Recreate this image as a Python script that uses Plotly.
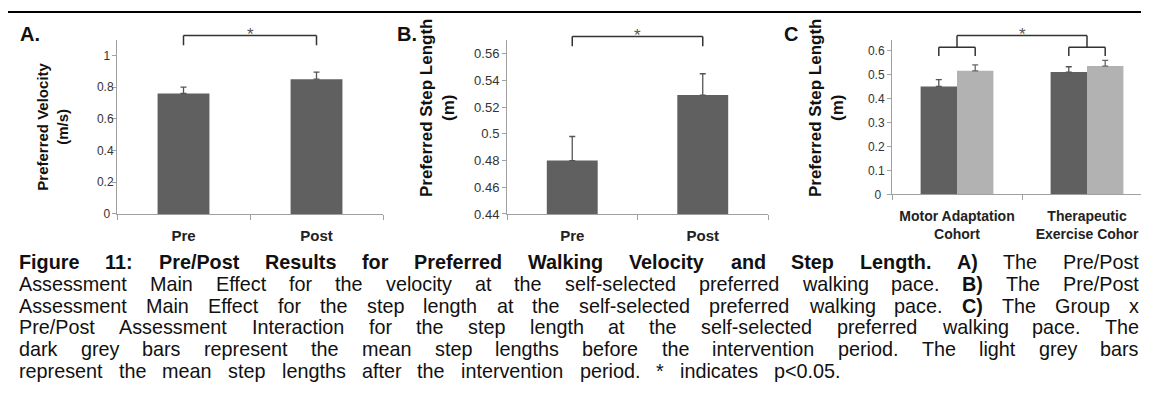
import plotly.graph_objects as go

W, H = 1149, 418
OFF = 8  # default page margin of the html body

# panel A: preferred walking velocity (m/s)
a_cats = ["Pre", "Post"]
a_vals = [0.76, 0.85]
a_err = [0.04, 0.045]
a_ticks = [0, 0.2, 0.4, 0.6, 0.8, 1]

# panel B: preferred step length (m)
b_cats = ["Pre", "Post"]
b_vals = [0.48, 0.529]
b_err = [0.018, 0.016]
b_ticks = [0.44, 0.46, 0.48, 0.5, 0.52, 0.54, 0.56]

# panel C: step length per cohort, pre (dark) / post (light)
c_cats = ["Motor Adaptation<br>Cohort", "Therapeutic<br>Exercise Cohor"]
c_pre = [0.45, 0.51]
c_pre_err = [0.028, 0.022]
c_post = [0.515, 0.535]
c_post_err = [0.025, 0.024]
c_ticks = [0, 0.1, 0.2, 0.3, 0.4, 0.5, 0.6]

caption = [
    [("Figure 11: Pre/Post Results for Preferred Walking Velocity and Step Length.", True),
     ("A)", True), ("The Pre/Post", False)],
    [("Assessment Main Effect for the velocity at the self-selected preferred walking pace.", False),
     ("B)", True), ("The Pre/Post", False)],
    [("Assessment Main Effect for the step length at the self-selected preferred walking pace.", False),
     ("C)", True), ("The Group x", False)],
    [("Pre/Post Assessment Interaction for the step length at the self-selected preferred walking pace. The", False)],
    [("dark grey bars represent the mean step lengths before the intervention period. The light grey bars", False)],
    [("represent the mean step lengths after the intervention period. * indicates p<0.05.", False)],
]

FONT = "Liberation Sans, Arial, sans-serif"
DARK = "rgb(96,96,96)"
LIGHT = "rgb(178,178,178)"
AXIS = "#a0a0a0"
NB = "\u00a0"


def px(x):
    return (x - OFF) / W


def py(y):
    return 1 - (y - OFF) / H


def tick_text(vals, pad_ints=False):
    out = []
    for v in vals:
        s = f"{v:g}"
        if pad_ints and len(s) == 1:
            s += NB  # single digits sit a little left, like the original
        out.append(s)
    return out


# Arial / Liberation Sans advance widths (1/1000 em), used to justify the caption
_reg = {" ": 278, "(": 333, ")": 333, "*": 389, ",": 278, "-": 333, ".": 278,
        "/": 278, ":": 278, "<": 584}
_reg.update({d: 556 for d in "0123456789"})
_reg.update(dict(zip("ABCDEFGHIJKLMNOPQRSTUVWXYZ",
                     [667, 667, 722, 722, 667, 611, 778, 722, 278, 500, 667, 556, 833,
                      722, 778, 667, 778, 722, 667, 611, 722, 667, 944, 667, 667, 611])))
_reg.update(dict(zip("abcdefghijklmnopqrstuvwxyz",
                     [556, 556, 500, 556, 556, 278, 556, 556, 222, 222, 500, 222, 833,
                      556, 556, 556, 556, 333, 500, 278, 556, 500, 722, 500, 500, 500])))
_bold = {" ": 278, "(": 333, ")": 333, "*": 389, ",": 278, "-": 333, ".": 278,
         "/": 278, ":": 333, "<": 584}
_bold.update({d: 556 for d in "0123456789"})
_bold.update(dict(zip("ABCDEFGHIJKLMNOPQRSTUVWXYZ",
                      [722, 722, 722, 722, 667, 611, 778, 722, 278, 556, 722, 611, 833,
                       722, 778, 667, 778, 722, 667, 611, 722, 667, 944, 667, 667, 611])))
_bold.update(dict(zip("abcdefghijklmnopqrstuvwxyz",
                      [556, 611, 556, 611, 556, 333, 611, 611, 278, 278, 556, 278, 889,
                       611, 611, 611, 611, 389, 556, 333, 611, 556, 778, 556, 556, 500])))


def text_width(s, bold, size):
    tab = _bold if bold else _reg
    return sum(tab.get(ch, 556) for ch in s) * size / 1000.0


fig = go.Figure()


def err(arr, color="#555"):
    return dict(type="data", array=arr, arrayminus=[0] * len(arr), symmetric=False,
                color=color, thickness=1.3, width=3)


# ---- panel A ----
fig.add_trace(go.Bar(x=a_cats, y=a_vals, width=0.39, marker=dict(color=DARK, line=dict(width=0)),
                     error_y=err(a_err), xaxis="x", yaxis="y", showlegend=False))
# ---- panel B ----
fig.add_trace(go.Bar(x=b_cats, y=b_vals, width=0.39, marker=dict(color=DARK, line=dict(width=0)),
                     error_y=err(b_err), xaxis="x2", yaxis="y2", showlegend=False))
# ---- panel C ----
fig.add_trace(go.Bar(x=c_cats, y=c_pre, width=0.28, offset=-0.28,
                     marker=dict(color=DARK, line=dict(width=0)),
                     error_y=err(c_pre_err), xaxis="x3", yaxis="y3", showlegend=False))
fig.add_trace(go.Bar(x=c_cats, y=c_post, width=0.28, offset=0,
                     marker=dict(color=LIGHT, line=dict(width=0)),
                     error_y=err(c_post_err, "#666"), xaxis="x3", yaxis="y3", showlegend=False))

xcommon = dict(showline=True, linecolor=AXIS, linewidth=1, ticks="outside",
               tickson="boundaries", ticklen=5, tickcolor=AXIS, showgrid=False,
               zeroline=False, fixedrange=True, ticklabelstandoff=8,
               tickfont=dict(family=FONT, size=15, color="#222", weight="bold"))
ycommon = dict(showline=True, linecolor=AXIS, linewidth=1, ticks="outside",
               ticklen=4, tickcolor=AXIS, showgrid=False, zeroline=False,
               fixedrange=True, tickfont=dict(family=FONT, size=12, color="#333"))

fig.update_layout(
    xaxis=dict(xcommon, domain=[px(117), px(383)], range=[-0.5, 1.5], anchor="y"),
    yaxis=dict(ycommon, domain=[py(218), py(41)], range=[0, 1.095], anchor="x",
               tickvals=a_ticks, ticktext=tick_text(a_ticks, True), ticklabelstandoff=-4),
    xaxis2=dict(xcommon, domain=[px(507), px(768)], range=[-0.5, 1.5], anchor="y2"),
    yaxis2=dict(ycommon, domain=[py(218), py(41)], range=[0.44, 0.57], anchor="x2",
                tickvals=b_ticks, ticktext=tick_text(b_ticks),
                tickfont=dict(family=FONT, size=13, color="#333")),
    xaxis3=dict(xcommon, domain=[px(892), 1.0], range=[-0.5, -0.5 + (W + OFF - 892) / 130],
                anchor="y3", ticklabelstandoff=9,
                tickfont=dict(family=FONT, size=14, color="#222", weight="bold")),
    yaxis3=dict(ycommon, domain=[py(198), py(41)], range=[0, 0.642], anchor="x3",
                tickvals=c_ticks, ticktext=tick_text(c_ticks, True)),
)


def bracket(xref, x0, x1, ytop, ybot):
    for xa, ya, xb, yb in [(x0, ybot, x0, ytop), (x0, ytop, x1, ytop), (x1, ytop, x1, ybot)]:
        fig.add_shape(type="line", xref=xref, yref="paper", x0=xa, x1=xb,
                      y0=py(ya), y1=py(yb), line=dict(color="#333", width=1.5))


def star(xref, x, y):
    fig.add_annotation(text="*", xref=xref, yref="paper", x=x, y=py(y), showarrow=False,
                       xanchor="center", yanchor="middle",
                       font=dict(family=FONT, size=17, color="#555"))


bracket("x", 0, 1, 36, 46)
star("x", 0.5, 35)
bracket("x2", 0, 1, 37, 47)
star("x2", 0.5, 36)
bracket("x3", 0, 1, 36, 48)
bracket("x3", -0.14, 0.14, 48, 57)
bracket("x3", 0.86, 1.14, 48, 57)
star("x3", 0.5, 35)

# y-axis titles and panel letters
for txt, x, y, size in [("Preferred Velocity<br>(m/s)", 53, 129, 15),
                        ("Preferred Step Length<br>(m)", 437, 110, 17),
                        ("Preferred Step Length<br>(m)", 826, 110, 17)]:
    fig.add_annotation(text=txt, xref="paper", yref="paper", x=px(x), y=py(y),
                       xanchor="center", yanchor="middle", textangle=-90, showarrow=False,
                       font=dict(family=FONT, size=size, color="#111", weight="bold"))
for txt, x in [("A.", 30), ("B.", 407), ("C", 791)]:
    fig.add_annotation(text=txt, xref="paper", yref="paper", x=px(x), y=py(35),
                       xanchor="center", yanchor="middle", showarrow=False,
                       font=dict(family=FONT, size=20, color="#111", weight="bold"))

# frame lines (top and left)
fig.add_shape(type="line", xref="paper", yref="paper", x0=px(7), x1=1, y0=py(12), y1=py(12),
              line=dict(color="black", width=2))
fig.add_shape(type="line", xref="paper", yref="paper", x0=px(7), x1=px(7), y0=py(12), y1=0,
              line=dict(color="black", width=2))

# justified caption, one annotation per word
CAP_SIZE = 19.8
left = 18
rights = [1138, 1138, 1138, 1138, 1138, 840]
line_y0, pitch = 267, 22.2
for i, segs in enumerate(caption):
    words = []
    for s, b in segs:
        words += [(w, b) for w in s.split(" ")]
    widths = [text_width(w, b, CAP_SIZE) for w, b in words]
    gap = (rights[i] - left - sum(widths)) / (len(words) - 1)
    x = left
    for (w, b), wd in zip(words, widths):
        fig.add_annotation(text=w, xref="paper", yref="paper", x=px(x), y=py(line_y0 + i * pitch),
                           xanchor="left", yanchor="middle", showarrow=False, borderpad=0,
                           font=dict(family=FONT, size=CAP_SIZE, color="#111",
                                     weight="bold" if b else "normal"))
        x += wd + gap

fig.update_layout(
    width=W, height=H, margin=dict(l=0, r=0, t=0, b=0),
    paper_bgcolor="white", plot_bgcolor="white", barmode="overlay",
    font=dict(family=FONT),
)
fig.write_html("out.html", config={"displayModeBar": False})
